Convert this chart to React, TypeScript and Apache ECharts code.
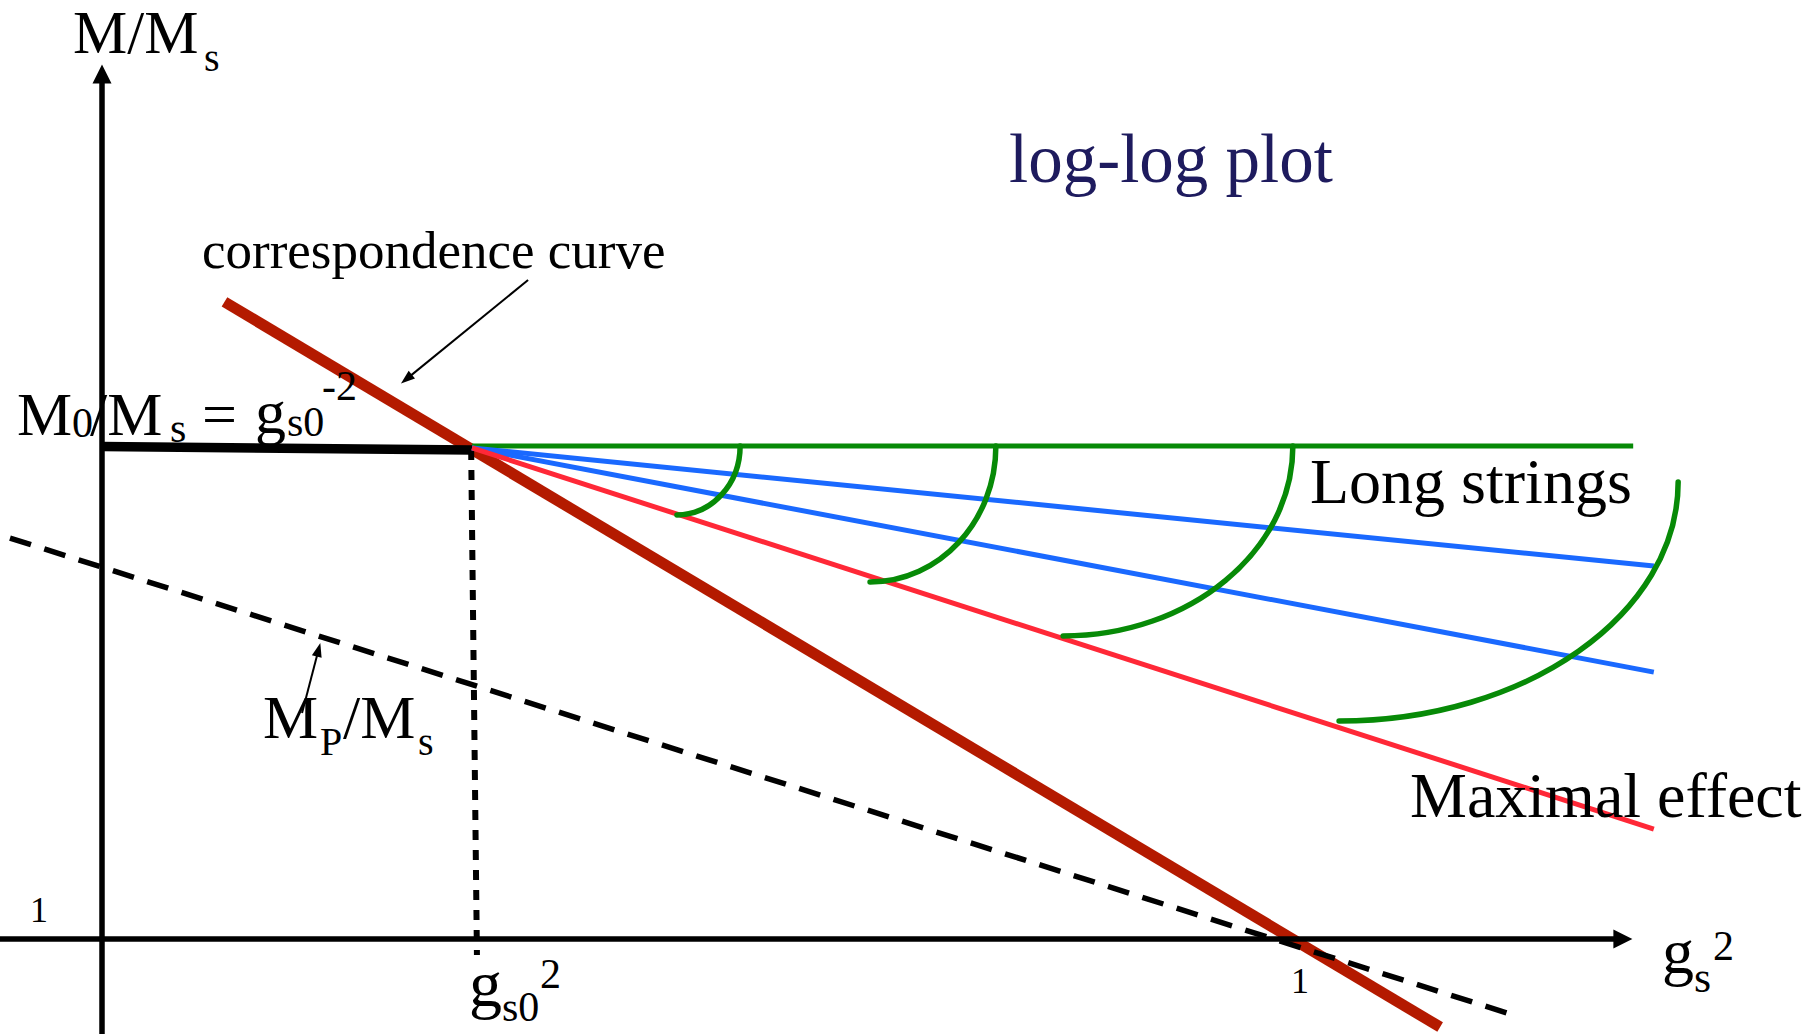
import React, { useEffect, useRef } from "react";
import * as echarts from "echarts";

// Schematic log-log plot: x = log10(g_s^2), y = log10(M/M_s)
const CORRESPONDENCE_CURVE = [[-2.6, 2.59], [0.347, -0.358]];
const MP_OVER_MS = [[-3.12, 1.63], [0.524, -0.309]];
const PLATEAU = [[-2.897, 2.002], [-2.0, 1.988]];
const LONG_STRINGS_FLAT = [[-2.0, 2.004], [0.815, 2.004]];
const INTERMEDIATE_1 = [[-2.0, 1.996], [0.865, 1.516]];
const INTERMEDIATE_2 = [[-2.0, 1.996], [0.865, 1.085]];
const MAXIMAL_EFFECT = [[-2.0, 1.996], [0.865, 0.447]];
const GS0_MARKER = [[-2.002, 1.988], [-1.988, -0.065]];
// arcs: [xTop, yTop, xEnd, yEnd]
const ARCS = [
  [-1.35, 2.004, -1.503, 1.724],
  [-0.73, 2.004, -1.035, 1.451],
  [-0.01, 2.004, -0.567, 1.232],
  [0.924, 1.858, 0.102, 0.886],
];
const X_MIN = -3.1442;
const X_MAX = 1.1709;
const Y_MIN = -0.3862;
const Y_MAX = 3.5163;
const Y_AXIS_AT = -2.897;
const X_AXIS_END = 0.79;
const CORR_ARROW = [[-1.864, 2.679], [-2.159, 2.276]];
const MP_ARROW = [[-2.412, 0.919], [-2.372, 1.176]];

const SERIF = '"Liberation Serif", "Times New Roman", serif';
const GREEN = "#078a07";
const BLUE = "#1a69ff";
const RED = "#ff2837";
const DARK_RED = "#b41a00";

function txt(t: string, x: number, base: number, fs: number, fill = "#000", align = "left") {
  return {
    type: "text",
    x,
    y: base - 0.3375 * fs,
    silent: true,
    z: 100,
    style: { text: t, fontSize: fs, fontFamily: SERIF, fill, align, verticalAlign: "middle" },
  };
}

function seg(data: number[][], color: string, width: number, z: number, type: any = "solid") {
  return {
    type: "line",
    data,
    symbol: "none",
    clip: false,
    silent: true,
    z,
    lineStyle: { color, width, type, cap: "butt" },
  };
}

export default function App() {
  const ref = useRef<HTMLDivElement>(null);
  useEffect(() => {
    if (!ref.current) return;
    const chart = echarts.init(ref.current, null, { renderer: "svg" });
    const option: any = {
      animation: false,
      backgroundColor: "#ffffff",
      grid: { left: 0, top: 74, right: 39, bottom: 0, containLabel: false, outerBoundsMode: "none" },
      xAxis: {
        type: "value",
        min: X_MIN,
        max: X_MAX,
        axisLine: { show: false },
        axisTick: { show: false },
        axisLabel: { show: false },
        splitLine: { show: false },
      },
      yAxis: {
        type: "value",
        min: Y_MIN,
        max: Y_MAX,
        axisLine: { show: false },
        axisTick: { show: false },
        axisLabel: { show: false },
        splitLine: { show: false },
      },
      series: [
        {
          type: "line",
          data: [],
          symbol: "none",
          clip: false,
          silent: true,
          z: 1,
          markLine: {
            silent: true,
            symbol: ["none", "triangle"],
            symbolSize: [19, 19],
            label: { show: false },
            lineStyle: { color: "#000", width: 5.5, type: "solid" },
            data: [
              [{ coord: [Y_AXIS_AT, Y_MIN] }, { coord: [Y_AXIS_AT, Y_MAX] }],
              [{ coord: [X_MIN, 0] }, { coord: [X_AXIS_END, 0] }],
            ],
          },
        },
        seg(CORRESPONDENCE_CURVE, DARK_RED, 11, 2),
        {
          ...seg(MP_OVER_MS, "#000", 5.5, 3, [22, 14]),
          markLine: {
            silent: true,
            symbol: ["none", "triangle"],
            symbolSize: [10, 14],
            label: { show: false },
            lineStyle: { color: "#000", width: 2, type: "solid" },
            data: [
              [{ coord: CORR_ARROW[0] }, { coord: CORR_ARROW[1] }],
              [{ coord: MP_ARROW[0] }, { coord: MP_ARROW[1] }],
            ],
          },
        },
        seg(GS0_MARKER, "#000", 6, 3, [10, 10]),
        seg(LONG_STRINGS_FLAT, GREEN, 5, 4),
        seg(INTERMEDIATE_1, BLUE, 5, 4),
        seg(INTERMEDIATE_2, BLUE, 5, 4),
        seg(MAXIMAL_EFFECT, RED, 5, 4),
        {
          type: "custom",
          coordinateSystem: "cartesian2d",
          data: ARCS,
          clip: false,
          silent: true,
          z: 5,
          renderItem: (params: any, api: any) => {
            const p1 = api.coord([api.value(0), api.value(1)]);
            const p2 = api.coord([api.value(2), api.value(3)]);
            const k = 0.5523;
            return {
              type: "bezierCurve",
              shape: {
                x1: p1[0],
                y1: p1[1],
                cpx1: p1[0],
                cpy1: p1[1] + k * (p2[1] - p1[1]),
                cpx2: p2[0] + k * (p1[0] - p2[0]),
                cpy2: p2[1],
                x2: p2[0],
                y2: p2[1],
              },
              style: { stroke: GREEN, lineWidth: 5.5, fill: "none", lineCap: "round" },
            };
          },
        },
        seg(PLATEAU, "#000", 9.5, 3),
      ],
      graphic: [
        txt("M/M", 73, 53, 61),
        txt("s", 204, 71, 40),
        txt("log-log plot", 1009, 182, 69, "#1e1b5e"),
        txt("correspondence curve", 202, 268, 53),
        txt("M", 17, 435, 62),
        txt("0", 72, 437, 42),
        txt("/M", 90, 435, 62),
        txt("s", 170, 442, 42),
        txt("=", 202, 435, 62),
        txt("g", 255, 433, 62),
        txt("s0", 287, 436, 42),
        txt("-2", 322, 400, 42),
        txt("M", 263, 738, 62),
        txt("P", 320, 755, 40),
        txt("/M", 343, 738, 62),
        txt("s", 418, 755, 40),
        txt("Long strings", 1310, 503, 64),
        txt("Maximal effect", 1410, 817, 64),
        txt("1", 39, 922, 36, "#000", "center"),
        txt("1", 1300, 993, 36, "#000", "center"),
        txt("g", 469, 1006, 66),
        txt("s0", 502, 1021, 42),
        txt("2", 540, 988, 42),
        txt("g", 1662, 973, 64),
        txt("s", 1694, 992, 44),
        txt("2", 1713, 960, 42),
      ],
    };
    chart.setOption(option);
    return () => chart.dispose();
  }, []);
  return (
    <div
      ref={ref}
      style={{ position: "fixed", left: 0, top: 0, width: "1819px", height: "1034px", background: "#fff" }}
    />
  );
}
